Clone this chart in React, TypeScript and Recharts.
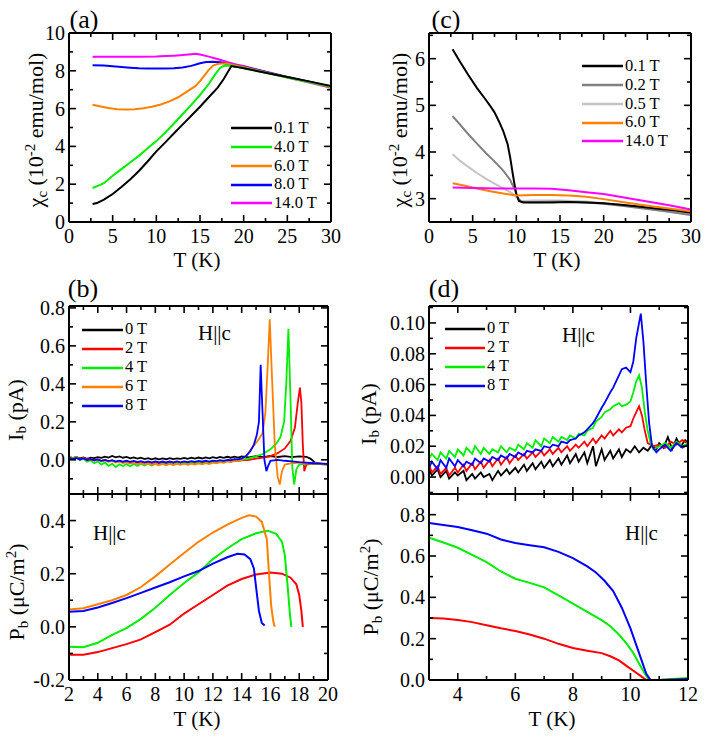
import React from "react";
import { LineChart, Line, XAxis, YAxis } from "recharts";

const FONT = '"Liberation Serif", "DejaVu Serif", "Times New Roman", serif';

// ---- (a) chi_c vs T, H || c ----
const chiA_fields = ["0.1 T", "4.0 T", "6.0 T", "8.0 T", "14.0 T"];
const chiA_colors = ["#000000", "#00ee00", "#ff8000", "#0000ff", "#ff00ff"];
const chiA_T01 = [2.7, 3.2, 4, 5, 6, 7, 8, 9, 10, 11, 12, 13, 14, 15, 16, 17, 17.7, 18.2, 18.6, 19, 20, 22.5, 25, 27.5, 30];
const chiA_01 = [0.95, 1.0, 1.18, 1.48, 1.85, 2.25, 2.7, 3.2, 3.74, 4.2, 4.68, 5.15, 5.62, 6.1, 6.6, 7.1, 7.55, 7.95, 8.25, 8.22, 8.13, 7.9, 7.67, 7.44, 7.2];
const chiA_T4 = [2.7, 3.5, 4, 5, 6, 7, 8, 9, 10, 11, 12, 13, 14, 15, 16, 16.8, 17.3, 17.8, 18.5, 20, 22.5, 25, 27.5, 30];
const chiA_4 = [1.8, 1.95, 2.05, 2.45, 2.8, 3.15, 3.5, 3.9, 4.28, 4.72, 5.2, 5.7, 6.2, 6.72, 7.3, 7.85, 8.15, 8.28, 8.27, 8.15, 7.9, 7.65, 7.4, 7.15];
const chiA_T6 = [2.7, 3.5, 4.5, 5.5, 6.5, 7.5, 8.5, 9.5, 10.5, 11.5, 12.5, 13.5, 14.5, 15, 15.5, 16, 16.5, 17, 17.5, 18, 19, 20, 22.5, 25, 27.5, 30];
const chiA_6 = [6.2, 6.12, 6.03, 5.97, 5.95, 5.97, 6.02, 6.1, 6.22, 6.38, 6.6, 6.9, 7.2, 7.45, 7.75, 8.05, 8.28, 8.36, 8.38, 8.38, 8.3, 8.2, 7.92, 7.65, 7.4, 7.13];
const chiA_T8 = [2.7, 4, 5, 6, 7, 8, 9, 10, 11, 12, 13, 14, 15, 15.7, 16.5, 17.3, 18, 19, 20, 22.5, 25, 27.5, 30];
const chiA_8 = [8.3, 8.28, 8.24, 8.2, 8.16, 8.13, 8.12, 8.12, 8.12, 8.13, 8.17, 8.26, 8.4, 8.47, 8.48, 8.45, 8.38, 8.3, 8.22, 7.95, 7.67, 7.42, 7.15];
const chiA_T14 = [2.7, 4, 6, 8, 10, 11, 12, 13, 14, 14.5, 15, 16, 17, 18, 19, 20, 22.5, 25, 27.5, 30];
const chiA_14 = [8.75, 8.75, 8.75, 8.75, 8.76, 8.78, 8.8, 8.83, 8.88, 8.9, 8.86, 8.75, 8.62, 8.48, 8.35, 8.25, 7.95, 7.65, 7.38, 7.1];

// ---- (c) chi_c vs T ----
const chiC_fields = ["0.1 T", "0.2 T", "0.5 T", "6.0 T", "14.0 T"];
const chiC_colors = ["#000000", "#808080", "#c4c4c4", "#ff8000", "#ff00ff"];
const chiC_T01 = [2.7, 3.5, 4.5, 5.5, 6.5, 7, 7.5, 8, 8.5, 9, 9.3, 9.6, 9.8, 10, 10.3, 10.8, 12, 14, 16, 18, 20, 22, 24, 26, 28, 30];
const chiC_01 = [6.2, 5.95, 5.65, 5.37, 5.12, 4.99, 4.85, 4.66, 4.45, 4.17, 3.88, 3.52, 3.3, 3.1, 2.95, 2.92, 2.92, 2.92, 2.93, 2.92, 2.9, 2.87, 2.83, 2.79, 2.75, 2.7];
const chiC_T02 = [2.7, 3.5, 4.5, 5.5, 6.5, 7.5, 8.5, 9.3, 9.8, 10.2, 10.6, 12, 15, 18, 20, 22.5, 25, 27.5, 30];
const chiC_02 = [4.77, 4.6, 4.38, 4.18, 3.98, 3.8, 3.6, 3.4, 3.2, 3.0, 2.93, 2.93, 2.94, 2.92, 2.89, 2.84, 2.78, 2.72, 2.65];
const chiC_T05 = [2.7, 3.5, 4.5, 5.5, 6.5, 7.5, 8.5, 9.5, 10.2, 10.6, 12, 15, 18, 20, 22.5, 25, 27.5, 30];
const chiC_05 = [3.95, 3.82, 3.68, 3.55, 3.43, 3.32, 3.22, 3.12, 3.0, 2.95, 2.96, 2.96, 2.94, 2.9, 2.85, 2.79, 2.72, 2.65];
const chiC_T6 = [2.7, 4, 5.5, 7, 8.5, 10, 12, 14, 16, 18, 20, 22.5, 25, 27.5, 30];
const chiC_6 = [3.33, 3.28, 3.22, 3.16, 3.11, 3.07, 3.08, 3.08, 3.07, 3.04, 2.99, 2.92, 2.85, 2.79, 2.73];
const chiC_T14 = [2.7, 5, 8, 10, 12, 14, 16, 18, 20, 22.5, 25, 27.5, 30];
const chiC_14 = [3.24, 3.23, 3.22, 3.22, 3.22, 3.21, 3.18, 3.14, 3.1, 3.02, 2.94, 2.86, 2.77];

// ---- (b) pyroelectric current and polarization ----
const ibB_fields = ["0 T", "2 T", "4 T", "6 T", "8 T"];
const ibB_colors = ["#000000", "#ff0000", "#00ee00", "#ff8000", "#0000ff"];
const ibB_Tbase = [2, 2.25, 2.5, 2.75, 3, 3.25, 3.5, 3.75, 4, 4.25, 4.5, 4.75, 5, 5.25, 5.5, 5.75, 6, 6.25, 6.5, 6.75, 7, 7.25, 7.5, 7.75, 8, 8.25, 8.5, 8.75, 9, 9.25, 9.5, 9.75, 10, 10.25, 10.5, 10.75, 11, 11.25, 11.5, 11.75, 12, 12.25, 12.5, 12.75, 13, 13.25, 13.5, 13.75];
const ibB_base0 = [0.012, 0.006, 0.015, 0.008, 0.013, 0.005, 0.011, 0.009, 0.014, 0.010, 0.017, 0.012, 0.020, 0.013, 0.018, 0.011, 0.015, 0.008, 0.013, 0.006, 0.011, 0.004, 0.009, 0.003, 0.008, 0.002, 0.007, 0.003, 0.009, 0.004, 0.008, 0.005, 0.010, 0.005, 0.011, 0.006, 0.012, 0.007, 0.013, 0.008, 0.014, 0.009, 0.015, 0.010, 0.016, 0.011, 0.017, 0.012];
const ibB_tailT0 = [14, 14.5, 15, 15.5, 16, 16.5, 17, 17.5, 18, 18.5, 18.8, 19.1, 19.5, 20];
const ibB_tail0 = [0.018, 0.013, 0.019, 0.014, 0.02, 0.015, 0.019, 0.014, 0.018, 0.016, 0.005, -0.015, -0.02, -0.022];
const ibB_base2 = [0.015, 0.010, 0.013, 0.006, 0.009, 0.002, 0.005, -0.002, 0.002, -0.006, -0.001, -0.008, -0.004, -0.011, -0.006, -0.013, -0.008, -0.014, -0.010, -0.016, -0.011, -0.017, -0.012, -0.018, -0.013, -0.019, -0.014, -0.020, -0.015, -0.019, -0.014, -0.018, -0.013, -0.017, -0.012, -0.016, -0.011, -0.015, -0.010, -0.014, -0.009, -0.013, -0.008, -0.011, -0.006, -0.009, -0.004, -0.006];
const ibB_tailT2 = [14, 14.5, 15, 15.5, 16, 16.5, 17, 17.4, 17.7, 17.9, 18.05, 18.15, 18.25, 18.35, 18.5, 19, 19.5, 20];
const ibB_tail2 = [-0.003, 0.0, 0.006, 0.012, 0.02, 0.035, 0.06, 0.1, 0.17, 0.3, 0.38, 0.3, 0.08, -0.06, -0.025, -0.02, -0.022, -0.025];
const ibB_base4 = [0.020, 0.008, 0.015, -0.002, 0.006, -0.010, -0.002, -0.018, -0.008, -0.025, -0.014, -0.032, -0.020, -0.038, -0.024, -0.033, -0.022, -0.035, -0.021, -0.032, -0.020, -0.030, -0.019, -0.031, -0.020, -0.029, -0.018, -0.028, -0.017, -0.027, -0.016, -0.025, -0.015, -0.024, -0.014, -0.022, -0.013, -0.020, -0.012, -0.018, -0.010, -0.016, -0.008, -0.013, -0.006, -0.010, -0.003, -0.006];
const ibB_tailT4 = [14, 14.5, 15, 15.5, 16, 16.4, 16.7, 16.95, 17.1, 17.25, 17.4, 17.52, 17.65, 17.8, 18, 18.5, 19, 19.5, 20];
const ibB_tail4 = [0.0, 0.008, 0.018, 0.032, 0.055, 0.085, 0.12, 0.2, 0.4, 0.69, 0.3, -0.04, -0.13, -0.05, -0.025, -0.02, -0.02, -0.022, -0.025];
const ibB_base6 = [0.015, 0.005, 0.012, 0.002, 0.008, -0.002, 0.004, -0.004, 0.001, -0.008, -0.003, -0.011, -0.006, -0.014, -0.009, -0.017, -0.012, -0.020, -0.015, -0.022, -0.017, -0.024, -0.019, -0.026, -0.021, -0.027, -0.022, -0.028, -0.022, -0.027, -0.021, -0.026, -0.020, -0.026, -0.020, -0.025, -0.019, -0.024, -0.017, -0.022, -0.015, -0.019, -0.012, -0.016, -0.009, -0.012, -0.005, -0.006];
const ibB_tailT6 = [14, 14.3, 14.6, 14.9, 15.2, 15.45, 15.65, 15.8, 15.95, 16.1, 16.3, 16.5, 16.65, 16.8, 17, 17.5, 18, 19, 20];
const ibB_tail6 = [0.0, 0.02, 0.05, 0.08, 0.11, 0.14, 0.25, 0.48, 0.74, 0.45, 0.08, -0.09, -0.13, -0.06, -0.025, -0.018, -0.015, -0.018, -0.022];
const ibB_base8 = [0.012, 0.004, 0.010, 0.002, 0.007, -0.001, 0.004, -0.003, 0.002, -0.005, 0.000, -0.007, -0.002, -0.009, -0.004, -0.010, -0.005, -0.011, -0.006, -0.012, -0.007, -0.013, -0.008, -0.013, -0.008, -0.014, -0.009, -0.014, -0.009, -0.013, -0.008, -0.013, -0.008, -0.012, -0.007, -0.011, -0.006, -0.010, -0.005, -0.009, -0.004, -0.007, -0.002, -0.005, 0.000, -0.002, 0.003, 0.002];
const ibB_tailT8 = [14, 14.3, 14.6, 14.85, 15.05, 15.2, 15.32, 15.45, 15.58, 15.72, 15.85, 16, 16.5, 17, 17.5, 18, 18.5, 19, 19.5, 20];
const ibB_tail8 = [0.008, 0.02, 0.045, 0.08, 0.13, 0.2, 0.5, 0.25, 0.0, -0.06, -0.03, -0.005, 0.0, -0.005, -0.008, -0.012, -0.015, -0.018, -0.02, -0.022];

const pbB_T2 = [2, 3, 4, 5, 6, 7, 8, 9, 10, 11, 12, 13, 14, 15, 16, 16.8, 17.4, 17.8, 18.0, 18.15, 18.25];
const pbB_2 = [-0.105, -0.105, -0.095, -0.08, -0.065, -0.047, -0.02, 0.008, 0.05, 0.085, 0.12, 0.155, 0.18, 0.197, 0.205, 0.2, 0.185, 0.16, 0.12, 0.06, 0.0];
const pbB_T4 = [2, 3, 4, 5, 6, 7, 8, 9, 10, 11, 12, 13, 14, 15, 15.8, 16.4, 16.8, 17.0, 17.2, 17.35, 17.45];
const pbB_4 = [-0.075, -0.077, -0.06, -0.03, -0.005, 0.03, 0.072, 0.12, 0.165, 0.205, 0.255, 0.295, 0.33, 0.352, 0.362, 0.35, 0.32, 0.27, 0.15, 0.05, 0.0];
const pbB_T6 = [2, 3, 4, 5, 6, 7, 8, 9, 10, 11, 12, 13, 14, 14.5, 15, 15.4, 15.75, 15.9, 16.05, 16.2, 16.3];
const pbB_6 = [0.065, 0.07, 0.085, 0.1, 0.12, 0.15, 0.19, 0.235, 0.278, 0.32, 0.355, 0.385, 0.41, 0.42, 0.415, 0.395, 0.33, 0.2, 0.08, 0.02, 0.0];
const pbB_T8 = [2, 3, 4, 5, 6, 7, 8, 9, 10, 11, 12, 13, 13.7, 14.2, 14.6, 14.85, 15.0, 15.2, 15.4, 15.6];
const pbB_8 = [0.057, 0.06, 0.073, 0.09, 0.108, 0.128, 0.148, 0.168, 0.19, 0.21, 0.238, 0.262, 0.275, 0.272, 0.255, 0.22, 0.15, 0.06, 0.015, 0.005];

// ---- (d) ----
const ibD_fields = ["0 T", "2 T", "4 T", "8 T"];
const ibD_colors = ["#000000", "#ff0000", "#00ee00", "#0000ff"];
const ibD_Tbase = [3, 3.1, 3.3, 3.4, 3.6, 3.7, 3.9, 4, 4.2, 4.3, 4.5, 4.6, 4.8, 4.9, 5.1, 5.2, 5.4, 5.5, 5.7, 5.8, 6, 6.1, 6.3, 6.4, 6.6, 6.7, 6.9, 7, 7.2, 7.3, 7.5, 7.6, 7.8, 7.9, 8.1, 8.2, 8.4, 8.5, 8.7, 8.8, 9, 9.1, 9.3, 9.4, 9.6, 9.7, 9.85];
const ibD_base0 = [0.006, 0.001, 0.005, 0.000, 0.004, -0.001, 0.003, 0.001, 0.004, -0.002, 0.002, -0.001, 0.003, 0.000, 0.002, -0.002, 0.004, 0.001, 0.005, 0.002, 0.006, 0.003, 0.008, 0.004, 0.009, 0.005, 0.010, 0.006, 0.011, 0.007, 0.012, 0.008, 0.014, 0.009, 0.015, 0.010, 0.016, 0.009, 0.020, 0.007, 0.018, 0.011, 0.017, 0.012, 0.018, 0.013, 0.018];
const ibD_tailT0 = [10, 10.15, 10.3, 10.45, 10.6, 10.75, 10.9, 11, 11.15, 11.3, 11.45, 11.6, 11.75, 11.9, 12];
const ibD_tail0 = [0.016, 0.020, 0.016, 0.019, 0.017, 0.021, 0.018, 0.022, 0.019, 0.026, 0.018, 0.025, 0.020, 0.024, 0.022];
const ibD_base2 = [0.008, 0.003, 0.007, 0.002, 0.006, 0.001, 0.006, 0.003, 0.008, 0.004, 0.009, 0.005, 0.010, 0.006, 0.011, 0.007, 0.012, 0.008, 0.013, 0.009, 0.014, 0.011, 0.015, 0.012, 0.016, 0.013, 0.017, 0.014, 0.018, 0.015, 0.019, 0.016, 0.020, 0.017, 0.021, 0.019, 0.023, 0.020, 0.025, 0.022, 0.027, 0.025, 0.030, 0.027, 0.031, 0.029, 0.032];
const ibD_tailT2 = [10, 10.1, 10.2, 10.3, 10.4, 10.5, 10.6, 10.8, 11, 11.2, 11.4, 11.6, 11.8, 12];
const ibD_tail2 = [0.033, 0.038, 0.042, 0.046, 0.040, 0.030, 0.022, 0.020, 0.021, 0.019, 0.023, 0.021, 0.024, 0.022];
const ibD_base4 = [0.012, 0.015, 0.011, 0.016, 0.012, 0.017, 0.013, 0.018, 0.014, 0.019, 0.015, 0.020, 0.015, 0.019, 0.015, 0.018, 0.016, 0.020, 0.016, 0.019, 0.017, 0.021, 0.018, 0.022, 0.019, 0.024, 0.020, 0.025, 0.022, 0.026, 0.023, 0.026, 0.024, 0.027, 0.025, 0.028, 0.027, 0.030, 0.032, 0.036, 0.039, 0.042, 0.044, 0.046, 0.048, 0.046, 0.047];
const ibD_tailT4 = [10, 10.1, 10.2, 10.3, 10.4, 10.5, 10.6, 10.7, 10.8, 11, 11.2, 11.4, 11.6, 11.8, 12];
const ibD_tail4 = [0.049, 0.055, 0.062, 0.066, 0.058, 0.042, 0.030, 0.022, 0.018, 0.020, 0.022, 0.019, 0.023, 0.020, 0.022];
const ibD_base8 = [0.006, 0.010, 0.005, 0.011, 0.006, 0.012, 0.007, 0.011, 0.007, 0.010, 0.008, 0.012, 0.009, 0.012, 0.010, 0.013, 0.011, 0.014, 0.012, 0.015, 0.013, 0.016, 0.014, 0.017, 0.016, 0.018, 0.017, 0.020, 0.019, 0.021, 0.020, 0.023, 0.022, 0.024, 0.025, 0.027, 0.029, 0.031, 0.035, 0.038, 0.045, 0.048, 0.055, 0.058, 0.066, 0.070, 0.071];
const ibD_tailT8 = [10, 10.1, 10.2, 10.3, 10.36, 10.45, 10.55, 10.65, 10.75, 10.9, 11, 11.2, 11.4, 11.6, 11.8, 12];
const ibD_tail8 = [0.068, 0.075, 0.090, 0.100, 0.106, 0.088, 0.060, 0.035, 0.020, 0.016, 0.018, 0.021, 0.017, 0.022, 0.019, 0.021];

const pbD_T2 = [3, 3.5, 4, 4.5, 5, 5.5, 6, 6.5, 7, 7.5, 8, 8.5, 9, 9.3, 9.6, 9.9, 10.2, 10.4, 10.55, 11, 12];
const pbD_2 = [0.3, 0.298, 0.29, 0.28, 0.265, 0.25, 0.237, 0.22, 0.2, 0.175, 0.155, 0.142, 0.13, 0.115, 0.095, 0.065, 0.035, 0.015, 0.0, 0.0, 0.0];
const pbD_T4 = [3, 3.5, 4, 4.5, 5, 5.5, 6, 6.5, 7, 7.5, 8, 8.5, 9, 9.3, 9.6, 9.9, 10.1, 10.3, 10.5, 10.65, 11, 11.5, 12];
const pbD_4 = [0.688, 0.665, 0.64, 0.605, 0.57, 0.525, 0.49, 0.47, 0.448, 0.41, 0.37, 0.33, 0.29, 0.26, 0.22, 0.17, 0.13, 0.08, 0.03, 0.0, 0.0, 0.005, 0.01];
const pbD_T8 = [3, 3.5, 4, 4.5, 5, 5.5, 6, 6.5, 7, 7.5, 8, 8.5, 8.8, 9.1, 9.4, 9.7, 10.0, 10.2, 10.4, 10.55, 10.7, 11, 11.5, 12];
const pbD_8 = [0.76, 0.75, 0.74, 0.725, 0.708, 0.68, 0.663, 0.652, 0.642, 0.62, 0.59, 0.55, 0.52, 0.48, 0.43, 0.35, 0.25, 0.17, 0.09, 0.03, 0.0, 0.0, 0.003, 0.005];

type Pt = { x: number; y: number };
const pts = (xs: number[], ys: number[]): Pt[] => xs.map((x, i) => ({ x, y: ys[i] }));

type Series = { data: Pt[]; color: string; width?: number };
type PanelCfg = {
  box: [number, number, number, number]; // container left, top, width, height
  plot: [number, number, number, number]; // plot left, top, right, bottom (page px)
  xDomain: [number, number];
  yDomain: [number, number];
  xMaj: number[];
  xMin: number[];
  yMaj: number[];
  yMin: number[];
  xFmt: ((v: number) => string) | null;
  yFmt: (v: number) => string;
  series: Series[];
};

const TS = 20;
const MAJ = 7;
const MIN = 4;

// ticks point into the frame; minor ones are shorter and carry no label
function tickFn(side: "b" | "t" | "l" | "r", majors: number[], fmt: ((v: number) => string) | null) {
  return (p: any) => {
    const v = p.payload.value;
    const big = majors.includes(v);
    const len = big ? MAJ : MIN;
    const { x, y } = p;
    let line;
    if (side === "b") line = <line x1={x} y1={y} x2={x} y2={y - len} />;
    else if (side === "t") line = <line x1={x} y1={y} x2={x} y2={y + len} />;
    else if (side === "l") line = <line x1={x} y1={y} x2={x + len} y2={y} />;
    else line = <line x1={x} y1={y} x2={x - len} y2={y} />;
    return (
      <g stroke="#000" strokeWidth={1.6}>
        {line}
        {fmt && big && side === "b" && (
          <text x={x} y={y + 21} textAnchor="middle" style={{ fontFamily: FONT, fontSize: TS }} stroke="none" fill="#000">
            {fmt(v)}
          </text>
        )}
        {fmt && big && side === "l" && (
          <text x={x - 4} y={y} dy="0.35em" textAnchor="end" style={{ fontFamily: FONT, fontSize: TS }} stroke="none" fill="#000">
            {fmt(v)}
          </text>
        )}
      </g>
    );
  };
}

function Panel({ cfg }: { cfg: PanelCfg }) {
  const [cl, ct, cw, ch] = cfg.box;
  const [pl, pt, pr, pb] = cfg.plot;
  const xt = [...cfg.xMaj, ...cfg.xMin].sort((a, b) => a - b);
  const yt = [...cfg.yMaj, ...cfg.yMin].sort((a, b) => a - b);
  const axisLine = { stroke: "#000", strokeWidth: 2 };
  const common = { type: "number" as const, allowDataOverflow: true, tickLine: false, tickSize: 0, tickMargin: 0, interval: 0 as const, axisLine };
  return (
    <div style={{ position: "absolute", left: cl, top: ct }}>
      <LineChart width={cw} height={ch} margin={{ top: 0, right: 0, bottom: 0, left: 0 }} style={{ fontFamily: FONT }}>
        <XAxis {...common} xAxisId="b" dataKey="x" orientation="bottom" domain={cfg.xDomain} ticks={xt} height={ct + ch - pb} tick={tickFn("b", cfg.xMaj, cfg.xFmt)} />
        <XAxis {...common} xAxisId="t" dataKey="x" orientation="top" domain={cfg.xDomain} ticks={xt} height={pt - ct} tick={tickFn("t", cfg.xMaj, null)} />
        <YAxis {...common} yAxisId="l" orientation="left" domain={cfg.yDomain} ticks={yt} width={pl - cl} tick={tickFn("l", cfg.yMaj, cfg.yFmt)} />
        <YAxis {...common} yAxisId="r" orientation="right" domain={cfg.yDomain} ticks={yt} width={cl + cw - pr} tick={tickFn("r", cfg.yMaj, null)} />
        {cfg.series.map((s, i) => (
          <Line
            key={i}
            xAxisId="b"
            yAxisId="l"
            data={s.data}
            dataKey="y"
            type="linear"
            stroke={s.color}
            strokeWidth={s.width ?? 2}
            dot={false}
            isAnimationActive={false}
          />
        ))}
      </LineChart>
    </div>
  );
}

function LegendBox({ left, top, names, colors, rowH, lineLen }: { left: number; top: number; names: string[]; colors: string[]; rowH: number; lineLen: number }) {
  return (
    <div style={{ position: "absolute", left, top, fontFamily: FONT, fontSize: 16.5, lineHeight: 1 }}>
      {names.map((n, i) => (
        <div key={n} style={{ display: "flex", alignItems: "center", height: rowH }}>
          <svg width={lineLen} height={4} style={{ display: "block" }}>
            <line x1={0} y1={2} x2={lineLen} y2={2} stroke={colors[i]} strokeWidth={2.6} />
          </svg>
          <span style={{ marginLeft: 2 }}>{n}</span>
        </div>
      ))}
    </div>
  );
}

const sub = { fontSize: "0.68em", verticalAlign: "-0.25em" } as const;
const sup = { fontSize: "0.68em", verticalAlign: "0.55em" } as const;

function YTitle({ cx, cy, children }: { cx: number; cy: number; children: React.ReactNode }) {
  return (
    <div style={{ position: "absolute", left: cx, top: cy, transform: "translate(-50%, -50%) rotate(-90deg)", whiteSpace: "nowrap", fontFamily: FONT, fontSize: 22, lineHeight: 1 }}>
      {children}
    </div>
  );
}

function Txt({ cx, cy, size, children, anchorLeft }: { cx: number; cy: number; size: number; children: React.ReactNode; anchorLeft?: boolean }) {
  return (
    <div style={{ position: "absolute", left: cx, top: cy, transform: anchorLeft ? "translate(0, -50%)" : "translate(-50%, -50%)", whiteSpace: "nowrap", fontFamily: FONT, fontSize: size, lineHeight: 1 }}>
      {children}
    </div>
  );
}

const intFmt = (v: number) => String(v);
const f1 = (v: number) => v.toFixed(1);
const f2 = (v: number) => v.toFixed(2);

const panelA: PanelCfg = {
  box: [0, 0, 345, 275],
  plot: [69, 33, 331, 222],
  xDomain: [0, 30],
  yDomain: [0, 10],
  xMaj: [0, 5, 10, 15, 20, 25, 30],
  xMin: [2.5, 7.5, 12.5, 17.5, 22.5, 27.5],
  yMaj: [0, 2, 4, 6, 8, 10],
  yMin: [1, 3, 5, 7, 9],
  xFmt: intFmt,
  yFmt: intFmt,
  series: [
    { data: pts(chiA_T14, chiA_14), color: chiA_colors[4] },
    { data: pts(chiA_T8, chiA_8), color: chiA_colors[3] },
    { data: pts(chiA_T6, chiA_6), color: chiA_colors[2] },
    { data: pts(chiA_T4, chiA_4), color: chiA_colors[1] },
    { data: pts(chiA_T01, chiA_01), color: chiA_colors[0] },
  ],
};

const panelC: PanelCfg = {
  box: [360, 0, 345, 275],
  plot: [429, 33, 691, 222],
  xDomain: [0, 30],
  yDomain: [2.5, 6.55],
  xMaj: [0, 5, 10, 15, 20, 25, 30],
  xMin: [2.5, 7.5, 12.5, 17.5, 22.5, 27.5],
  yMaj: [3, 4, 5, 6],
  yMin: [3.5, 4.5, 5.5, 6.5],
  xFmt: intFmt,
  yFmt: intFmt,
  series: [
    { data: pts(chiC_T05, chiC_05), color: chiC_colors[2] },
    { data: pts(chiC_T02, chiC_02), color: chiC_colors[1] },
    { data: pts(chiC_T01, chiC_01), color: chiC_colors[0] },
    { data: pts(chiC_T6, chiC_6), color: chiC_colors[3] },
    { data: pts(chiC_T14, chiC_14), color: chiC_colors[4] },
  ],
};

const panelBtop: PanelCfg = {
  box: [0, 280, 345, 220],
  plot: [69, 306, 328, 494],
  xDomain: [2, 20],
  yDomain: [-0.18, 0.81],
  xMaj: [2, 4, 6, 8, 10, 12, 14, 16, 18, 20],
  xMin: [3, 5, 7, 9, 11, 13, 15, 17, 19],
  yMaj: [0, 0.2, 0.4, 0.6, 0.8],
  yMin: [-0.1, 0.1, 0.3, 0.5, 0.7],
  xFmt: null,
  yFmt: f1,
  series: [
    { data: pts([...ibB_Tbase, ...ibB_tailT0], [...ibB_base0, ...ibB_tail0]), color: ibB_colors[0], width: 1.8 },
    { data: pts([...ibB_Tbase, ...ibB_tailT2], [...ibB_base2, ...ibB_tail2]), color: ibB_colors[1], width: 1.8 },
    { data: pts([...ibB_Tbase, ...ibB_tailT4], [...ibB_base4, ...ibB_tail4]), color: ibB_colors[2], width: 1.8 },
    { data: pts([...ibB_Tbase, ...ibB_tailT6], [...ibB_base6, ...ibB_tail6]), color: ibB_colors[3], width: 1.8 },
    { data: pts([...ibB_Tbase, ...ibB_tailT8], [...ibB_base8, ...ibB_tail8]), color: ibB_colors[4], width: 1.8 },
  ],
};

const panelBbot: PanelCfg = {
  box: [0, 488, 345, 250],
  plot: [69, 494, 328, 680],
  xDomain: [2, 20],
  yDomain: [-0.2, 0.5],
  xMaj: [2, 4, 6, 8, 10, 12, 14, 16, 18, 20],
  xMin: [3, 5, 7, 9, 11, 13, 15, 17, 19],
  yMaj: [-0.2, 0, 0.2, 0.4],
  yMin: [-0.1, 0.1, 0.3],
  xFmt: intFmt,
  yFmt: f1,
  series: [
    { data: pts(pbB_T2, pbB_2), color: ibB_colors[1] },
    { data: pts(pbB_T4, pbB_4), color: ibB_colors[2] },
    { data: pts(pbB_T6, pbB_6), color: ibB_colors[3] },
    { data: pts(pbB_T8, pbB_8), color: ibB_colors[4] },
  ],
};

const panelDtop: PanelCfg = {
  box: [360, 280, 345, 220],
  plot: [429, 306, 688, 494],
  xDomain: [3, 12],
  yDomain: [-0.011, 0.111],
  xMaj: [4, 6, 8, 10, 12],
  xMin: [5, 7, 9, 11],
  yMaj: [0, 0.02, 0.04, 0.06, 0.08, 0.1],
  yMin: [-0.01, 0.01, 0.03, 0.05, 0.07, 0.09, 0.11],
  xFmt: null,
  yFmt: f2,
  series: [
    { data: pts([...ibD_Tbase, ...ibD_tailT0], [...ibD_base0, ...ibD_tail0]), color: ibD_colors[0], width: 1.8 },
    { data: pts([...ibD_Tbase, ...ibD_tailT2], [...ibD_base2, ...ibD_tail2]), color: ibD_colors[1], width: 1.8 },
    { data: pts([...ibD_Tbase, ...ibD_tailT4], [...ibD_base4, ...ibD_tail4]), color: ibD_colors[2], width: 1.8 },
    { data: pts([...ibD_Tbase, ...ibD_tailT8], [...ibD_base8, ...ibD_tail8]), color: ibD_colors[3], width: 1.8 },
  ],
};

const panelDbot: PanelCfg = {
  box: [360, 488, 345, 250],
  plot: [429, 494, 688, 680],
  xDomain: [3, 12],
  yDomain: [0, 0.9],
  xMaj: [4, 6, 8, 10, 12],
  xMin: [5, 7, 9, 11],
  yMaj: [0, 0.2, 0.4, 0.6, 0.8],
  yMin: [0.1, 0.3, 0.5, 0.7],
  xFmt: intFmt,
  yFmt: f1,
  series: [
    { data: pts(pbD_T2, pbD_2), color: ibD_colors[1] },
    { data: pts(pbD_T4, pbD_4), color: ibD_colors[2] },
    { data: pts(pbD_T8, pbD_8), color: ibD_colors[3] },
  ],
};

export default function App() {
  return (
    <div style={{ position: "absolute", left: 0, top: 0, width: 705, height: 738, background: "#fff", overflow: "hidden", fontFamily: FONT }}>
      <Panel cfg={panelA} />
      <Panel cfg={panelC} />
      <Panel cfg={panelBtop} />
      <Panel cfg={panelBbot} />
      <Panel cfg={panelDtop} />
      <Panel cfg={panelDbot} />

      <LegendBox left={231} top={119} names={chiA_fields} colors={chiA_colors} rowH={18.75} lineLen={41} />
      <LegendBox left={582} top={57} names={chiC_fields} colors={chiC_colors} rowH={18.75} lineLen={41} />
      <LegendBox left={82} top={320} names={ibB_fields} colors={ibB_colors} rowH={19} lineLen={41} />
      <LegendBox left={445} top={319} names={ibD_fields} colors={ibD_colors} rowH={19} lineLen={40} />

      <Txt cx={84} cy={20} size={26}>(a)</Txt>
      <Txt cx={83} cy={289} size={26}>(b)</Txt>
      <Txt cx={446} cy={20} size={26}>(c)</Txt>
      <Txt cx={444} cy={289} size={26}>(d)</Txt>

      <Txt cx={198} cy={333} size={21} anchorLeft>H||c</Txt>
      <Txt cx={93} cy={533} size={21} anchorLeft>H||c</Txt>
      <Txt cx={562} cy={335} size={21} anchorLeft>H||c</Txt>
      <Txt cx={625} cy={533} size={21} anchorLeft>H||c</Txt>

      <Txt cx={197} cy={260} size={21}>T (K)</Txt>
      <Txt cx={557} cy={260} size={21}>T (K)</Txt>
      <Txt cx={197} cy={719} size={21}>T (K)</Txt>
      <Txt cx={552} cy={719} size={21}>T (K)</Txt>

      <YTitle cx={36} cy={130}>
        χ<span style={sub}>c</span> (10<span style={sup}>-2</span> emu/mol)
      </YTitle>
      <YTitle cx={400} cy={130}>
        χ<span style={sub}>c</span> (10<span style={sup}>-2</span> emu/mol)
      </YTitle>
      <YTitle cx={17} cy={410}>
        I<span style={sub}>b</span> (pA)
      </YTitle>
      <YTitle cx={17} cy={592}>
        P<span style={sub}>b</span> (μC/m<span style={sup}>2</span>)
      </YTitle>
      <YTitle cx={370} cy={414}>
        I<span style={sub}>b</span> (pA)
      </YTitle>
      <YTitle cx={371} cy={587}>
        P<span style={sub}>b</span> (μC/m<span style={sup}>2</span>)
      </YTitle>
    </div>
  );
}
